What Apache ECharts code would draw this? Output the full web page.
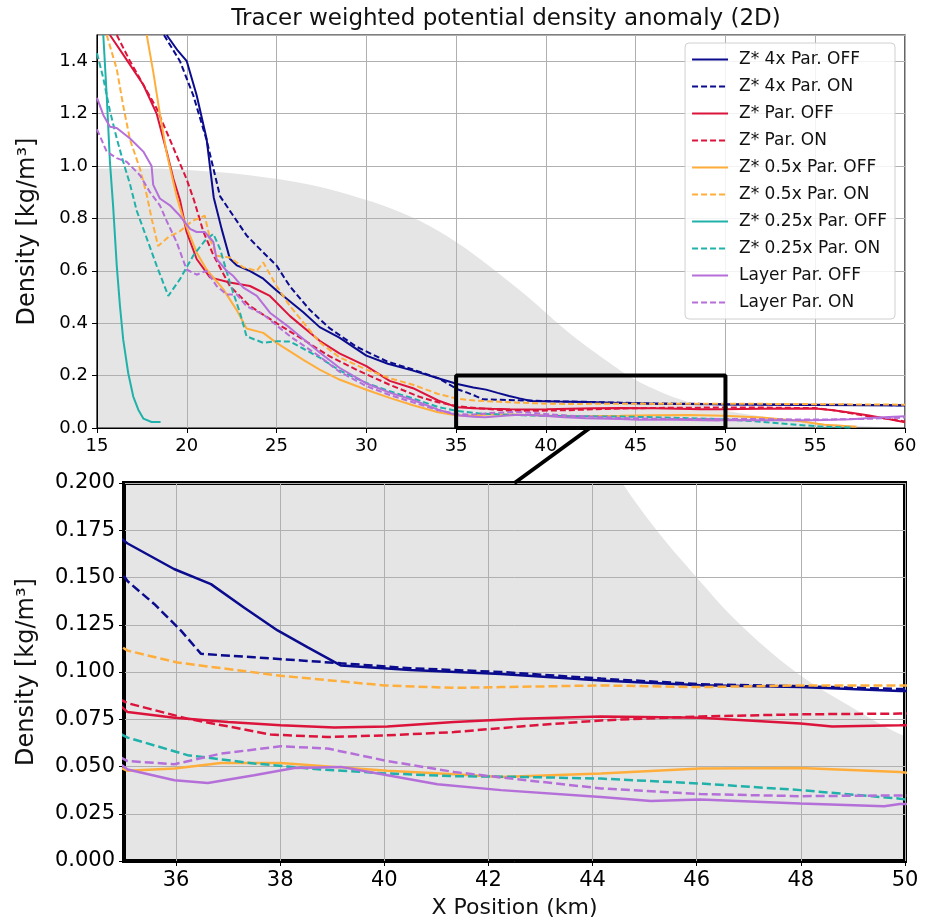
<!DOCTYPE html>
<html><head><meta charset="utf-8">
<script src="https://cdn.jsdelivr.net/npm/echarts@6/dist/echarts.min.js"></script>
<style>html,body{margin:0;padding:0;background:#fff}#c{width:925px;height:921px}</style>
</head><body><div id="c"></div><script>
// ---------------- DATA ----------------
const titleText = 'Tracer weighted potential density anomaly (2D)';
const yLabelText = 'Density [kg/m³]';
const xLabelText = 'X Position (km)';
const seriesNames = ['Z* 4x Par. OFF','Z* 4x Par. ON','Z* Par. OFF','Z* Par. ON','Z* 0.5x Par. OFF','Z* 0.5x Par. ON','Z* 0.25x Par. OFF','Z* 0.25x Par. ON','Layer Par. OFF','Layer Par. ON'];
const bottomXTicks = [36, 38, 40, 42, 44, 46, 48, 50];

// topography (grey background)
const topoX = [15, 18, 20, 22, 24, 26, 28, 30, 31.3, 33, 35, 37, 39, 40, 41, 42, 43, 44, 44.5, 45.2, 46, 46.8, 47.9, 49, 50, 52, 54, 56, 58, 60];
const topoY = [0.99, 0.99, 0.985, 0.975, 0.96, 0.94, 0.91, 0.87, 0.84, 0.79, 0.71, 0.61, 0.5, 0.44, 0.38, 0.325, 0.275, 0.227, 0.203, 0.176, 0.15, 0.126, 0.1, 0.081, 0.066, 0.045, 0.028, 0.015, 0.006, 0.002];

const z4OffX = [18.88, 19.5, 20.0, 20.55, 21.1, 21.5, 21.94, 22.4, 22.78, 23.5, 24.26, 25.0, 26.49, 27.4, 28.5, 30.0, 31.2, 32.6, 34.0, 35.07, 35.96, 36.67, 37.31, 37.95, 38.53, 39.17, 40.5, 42.24, 44.16, 46.07, 47.99, 49.9, 52.5, 55, 57.5, 60];
const z4OffY = [1.5, 1.44, 1.40, 1.27, 1.105, 0.88, 0.76, 0.646, 0.621, 0.60, 0.570, 0.525, 0.442, 0.385, 0.345, 0.276, 0.245, 0.219, 0.19, 0.168, 0.1545, 0.1465, 0.134, 0.122, 0.113, 0.1034, 0.101, 0.099, 0.0955, 0.093, 0.092, 0.090, 0.089, 0.088, 0.087, 0.086];

const z4OnX = [18.73, 19.62, 20.36, 21.1, 21.85, 22.59, 23.33, 24.26, 25.0, 25.75, 26.86, 27.97, 29.46, 31.15, 32.6, 34.0, 35.07, 35.58, 36.09, 36.48, 37.5, 38.46, 39.17, 40.5, 42.24, 44.16, 46.07, 47.99, 49.9, 52.5, 55, 57.5, 60];
const z4OnY = [1.5, 1.40, 1.27, 1.10, 0.885, 0.81, 0.735, 0.67, 0.62, 0.54, 0.45, 0.38, 0.31, 0.254, 0.223, 0.19, 0.148, 0.136, 0.122, 0.1096, 0.1078, 0.106, 0.1046, 0.102, 0.1, 0.0965, 0.0935, 0.0925, 0.091, 0.09, 0.089, 0.088, 0.087];

const zOffX = [15.72, 16.46, 17.58, 18.32, 18.88, 19.25, 19.62, 19.99, 20.55, 21.29, 22.4, 23.52, 24.63, 25.75, 27.4, 28.5, 30.0, 31.3, 32.6, 34.0, 35.07, 35.97, 37.0, 38.01, 39.04, 40.06, 41.34, 42.62, 44.16, 46.07, 47.99, 48.6, 49.9, 52, 55, 56, 57, 58, 59, 60];
const zOffY = [1.5, 1.425, 1.31, 1.2, 1.055, 0.952, 0.87, 0.748, 0.645, 0.575, 0.555, 0.542, 0.504, 0.427, 0.333, 0.285, 0.236, 0.18, 0.152, 0.105, 0.0788, 0.0758, 0.0735, 0.0718, 0.0706, 0.0712, 0.0735, 0.0753, 0.0765, 0.0758, 0.0727, 0.0712, 0.0718, 0.073, 0.074, 0.068, 0.058, 0.048, 0.035, 0.022];

const zOnX = [16.1, 16.84, 17.5, 18.32, 19.25, 19.99, 20.4, 20.92, 21.48, 22.4, 23.52, 25.0, 26.49, 27.97, 29.46, 31.3, 33.0, 34.0, 35.07, 36.22, 37.82, 38.91, 40.06, 41.34, 42.62, 44.16, 46.07, 47.99, 49.9, 52, 55, 56, 57, 58, 59, 60];
const zOnY = [1.5, 1.40, 1.32, 1.22, 1.07, 0.95, 0.87, 0.75, 0.66, 0.542, 0.465, 0.40, 0.337, 0.273, 0.222, 0.165, 0.118, 0.098, 0.0835, 0.0753, 0.0669, 0.0656, 0.0665, 0.0682, 0.0712, 0.0744, 0.0765, 0.0776, 0.078, 0.078, 0.076, 0.068, 0.056, 0.044, 0.035, 0.025];

const z05OffX = [17.77, 18.13, 18.5, 18.88, 19.43, 19.8, 20.2, 20.55, 21.1, 22.03, 22.78, 23.33, 24.26, 25.0, 26.49, 27.4, 28.5, 30.0, 31.3, 32.6, 34.0, 35.07, 35.97, 36.86, 38.01, 39.04, 40.06, 41.34, 42.24, 44.16, 46.07, 47.99, 49.9, 52, 54, 55.5, 57.3];
const z05OffY = [1.5, 1.36, 1.2, 1.05, 0.885, 0.8, 0.73, 0.67, 0.605, 0.53, 0.45, 0.38, 0.363, 0.325, 0.26, 0.223, 0.185, 0.146, 0.115, 0.087, 0.06, 0.0477, 0.0489, 0.0519, 0.0519, 0.0498, 0.0477, 0.0459, 0.0445, 0.0463, 0.0489, 0.0492, 0.0471, 0.04, 0.028, 0.012, 0.005];

const z05OnX = [15.54, 16.1, 16.46, 16.84, 17.39, 17.77, 18.04, 18.4, 19.0, 19.6, 20.3, 21.0, 21.3, 21.66, 22.4, 23.15, 23.9, 24.26, 25.0, 25.75, 27.4, 28.5, 30.0, 31.3, 32.6, 34.0, 35.07, 36.03, 38.01, 40.0, 41.33, 42.24, 44.16, 46.07, 47.99, 49.9, 52.5, 55, 57.5, 60];
const z05OnY = [1.5, 1.37, 1.23, 1.1, 0.99, 0.89, 0.80, 0.695, 0.73, 0.75, 0.79, 0.81, 0.72, 0.657, 0.651, 0.613, 0.60, 0.632, 0.542, 0.465, 0.327, 0.27, 0.223, 0.19, 0.165, 0.13, 0.1113, 0.105, 0.098, 0.0929, 0.0916, 0.092, 0.0929, 0.092, 0.0929, 0.0929, 0.092, 0.091, 0.09, 0.089];

const z025OffX = [15.35, 15.54, 15.72, 15.9, 16.1, 16.28, 16.46, 16.74, 17.02, 17.3, 17.58, 18.04, 18.54];
const z025OffY = [1.5, 1.27, 1.016, 0.845, 0.62, 0.465, 0.337, 0.209, 0.12, 0.07, 0.036, 0.023, 0.023];

const z025OnX = [15.0, 15.35, 15.72, 16.1, 16.46, 16.84, 17.21, 17.58, 18.32, 18.97, 19.62, 20.36, 21.01, 21.48, 21.85, 22.4, 22.96, 23.33, 24.26, 25.0, 25.75, 27.4, 28.5, 30.0, 31.3, 32.6, 34.0, 35.07, 36.22, 37.5, 38.78, 40.06, 41.34, 42.62, 44.16, 46.07, 47.99, 49.9, 52, 54, 55.5, 57];
const z025OnY = [1.43, 1.335, 1.21, 1.105, 1.016, 0.93, 0.83, 0.76, 0.62, 0.504, 0.568, 0.658, 0.715, 0.741, 0.684, 0.555, 0.44, 0.35, 0.325, 0.331, 0.33, 0.269, 0.22, 0.172, 0.14, 0.113, 0.08, 0.0653, 0.056, 0.0516, 0.0484, 0.0463, 0.0449, 0.0445, 0.0436, 0.041, 0.0375, 0.033, 0.024, 0.012, 0.005, 0.002];

const layOffX = [15.0, 15.35, 15.72, 16.1, 16.84, 17.58, 18.04, 18.13, 18.5, 19.06, 19.62, 20.18, 20.55, 21.01, 21.48, 21.66, 22.22, 22.59, 23.15, 23.9, 24.63, 25.75, 27.4, 28.5, 30.0, 31.3, 32.6, 34.0, 35.07, 35.97, 36.61, 37.5, 38.27, 39.17, 40.06, 41.02, 42.24, 44.16, 45.12, 46.07, 47.99, 49.6, 49.9, 52, 55, 57, 58.5, 60];
const layOffY = [1.26, 1.195, 1.15, 1.145, 1.105, 1.055, 1.0, 0.928, 0.876, 0.85, 0.81, 0.76, 0.748, 0.748, 0.71, 0.645, 0.60, 0.58, 0.536, 0.504, 0.44, 0.382, 0.288, 0.23, 0.17, 0.135, 0.107, 0.07, 0.0484, 0.0427, 0.0413, 0.0454, 0.0492, 0.0498, 0.0454, 0.0406, 0.0375, 0.0339, 0.0318, 0.0326, 0.0304, 0.029, 0.0301, 0.03, 0.03, 0.033, 0.04, 0.045];

const layOnX = [15.0, 15.54, 16.1, 16.65, 17.39, 17.95, 18.5, 18.88, 19.43, 19.99, 20.55, 21.1, 21.66, 22.22, 22.78, 23.33, 24.26, 25.75, 27.4, 28.5, 30.0, 31.3, 32.6, 34.0, 35.07, 35.97, 36.86, 38.01, 38.91, 40.06, 41.34, 42.24, 44.16, 46.07, 47.99, 49.9, 52, 55, 58, 60];
const layOnY = [1.14, 1.055, 1.03, 1.016, 0.965, 0.90, 0.85, 0.79, 0.71, 0.605, 0.585, 0.60, 0.542, 0.51, 0.51, 0.465, 0.433, 0.35, 0.273, 0.215, 0.16, 0.126, 0.098, 0.068, 0.0529, 0.0512, 0.0568, 0.0607, 0.0595, 0.0529, 0.0471, 0.0442, 0.0384, 0.0354, 0.0343, 0.0347, 0.034, 0.032, 0.035, 0.04];

// zoom window shown in the top panel, and connector anchor (data units)
const zoomX = [35, 50];
const zoomY = [0, 0.2];
const connectTop = [42.45, 0];
const connectBottom = [42.5, 0.2];

// ---------------- STYLE / BUILD ----------------
const FONT = 'DejaVu Sans';
const NAVY = '#0b0b8e', CRIMSON = '#dc143c', ORANGE = '#ffae3b', TEAL = '#20b2aa', PURPLE = '#b56fd9';
const defs = [
  [z4OffX, z4OffY, NAVY, false], [z4OnX, z4OnY, NAVY, true],
  [zOffX, zOffY, CRIMSON, false], [zOnX, zOnY, CRIMSON, true],
  [z05OffX, z05OffY, ORANGE, false], [z05OnX, z05OnY, ORANGE, true],
  [z025OffX, z025OffY, TEAL, false], [z025OnX, z025OnY, TEAL, true],
  [layOffX, layOffY, PURPLE, false], [layOnX, layOnY, PURPLE, true]
];
const pair = (xs, ys) => xs.map((x, i) => [x, ys[i]]);

const series = [];
[0, 1].forEach(g => {
  series.push({
    type: 'line', xAxisIndex: g, yAxisIndex: g, data: pair(topoX, topoY),
    symbol: 'none', smooth: 0.35, lineStyle: { width: 0 }, areaStyle: { color: '#e5e5e5', opacity: 1 },
    z: -1, silent: true
  });
});
defs.forEach((d, i) => {
  [0, 1].forEach(g => {
    series.push({
      name: seriesNames[i], type: 'line', xAxisIndex: g, yAxisIndex: g,
      data: pair(d[0], d[1]), symbol: 'none', showSymbol: false,
      lineStyle: { color: d[2], width: g === 0 ? 2 : 2.5, type: d[3] ? (g === 0 ? [6, 3] : [9, 4]) : 'solid' },
      itemStyle: { color: d[2] }, z: 3
    });
  });
});
series.push({
  type: 'line', xAxisIndex: 0, yAxisIndex: 0, symbol: 'none', clip: false, silent: true,
  data: [[zoomX[0], zoomY[0]], [zoomX[0], zoomY[1]], [zoomX[1], zoomY[1]], [zoomX[1], zoomY[0]], [zoomX[0], zoomY[0]]],
  lineStyle: { color: '#000', width: 4 }, z: 6
});

const axisCommon = (fs) => ({
  axisLine: { show: true, lineStyle: { color: '#000', width: 1 } },
  axisTick: { show: true, inside: false, length: 5, lineStyle: { color: '#000', width: 1 } },
  splitLine: { show: true, lineStyle: { color: '#b0b0b0', width: 1 } },
  axisLabel: { color: '#000', fontSize: fs, fontFamily: FONT, margin: 9 }
});

const option = {
  animation: false,
  backgroundColor: '#fff',
  title: { text: titleText, left: 501, top: 3, textAlign: 'center',
    textStyle: { fontFamily: FONT, fontSize: 23, fontWeight: 'normal', color: '#111' } },
  legend: {
    data: seriesNames, orient: 'vertical', right: 30, top: 43,
    itemWidth: 36, itemHeight: 14, itemGap: 10,
    padding: [8, 8, 8, 6], backgroundColor: 'rgba(255,255,255,0.85)',
    borderColor: '#d0d0d0', borderWidth: 1, borderRadius: 4,
    itemStyle: { opacity: 0, borderWidth: 0 },
    textStyle: { fontFamily: FONT, fontSize: 17, color: '#111', padding: [0, 0, 0, 6] }
  },
  grid: [
    { left: 97, top: 35, width: 808, height: 393, show: true, borderColor: '#000', borderWidth: 1.2, backgroundColor: 'transparent' },
    { left: 124, top: 483, width: 781, height: 378, show: true, borderColor: '#000', borderWidth: 4, backgroundColor: 'transparent' }
  ],
  xAxis: [
    Object.assign(axisCommon(18), { type: 'value', gridIndex: 0, min: 15, max: 60, interval: 5 }),
    Object.assign(axisCommon(21), { type: 'value', gridIndex: 1, min: 35, max: 50,
      axisTick: { show: true, length: 5, lineStyle: { color: '#000' }, customValues: bottomXTicks },
      axisLabel: { color: '#000', fontSize: 21, fontFamily: FONT, margin: 9, customValues: bottomXTicks },
      name: xLabelText, nameLocation: 'middle', nameGap: 36,
      nameTextStyle: { fontFamily: FONT, fontSize: 22, color: '#111' } })
  ],
  yAxis: [
    Object.assign(axisCommon(18), { type: 'value', gridIndex: 0, min: 0, max: 1.5, interval: 0.2,
      name: yLabelText, nameLocation: 'middle', nameGap: 57,
      nameTextStyle: { fontFamily: FONT, fontSize: 24, color: '#111' } }),
    Object.assign(axisCommon(21), { type: 'value', gridIndex: 1, min: 0, max: 0.2, interval: 0.025,
      name: yLabelText, nameLocation: 'middle', nameGap: 85,
      nameTextStyle: { fontFamily: FONT, fontSize: 24, color: '#111' } })
  ],
  series: series
};
option.yAxis[0].axisLabel = Object.assign({}, option.yAxis[0].axisLabel, { showMaxLabel: false, formatter: v => v.toFixed(1) });
option.yAxis[1].axisLabel = Object.assign({}, option.yAxis[1].axisLabel, { formatter: v => v.toFixed(3) });

const chart = echarts.init(document.getElementById('c'), null, { renderer: 'canvas' });
chart.setOption(option);
const p1 = chart.convertToPixel({ gridIndex: 0 }, connectTop);
const p2 = chart.convertToPixel({ gridIndex: 1 }, connectBottom);
chart.setOption({ graphic: [{ type: 'line', shape: { x1: p1[0], y1: p1[1], x2: p2[0], y2: p2[1] },
  style: { stroke: '#000', lineWidth: 4 }, z: 10, silent: true }] });
</script></body></html>
